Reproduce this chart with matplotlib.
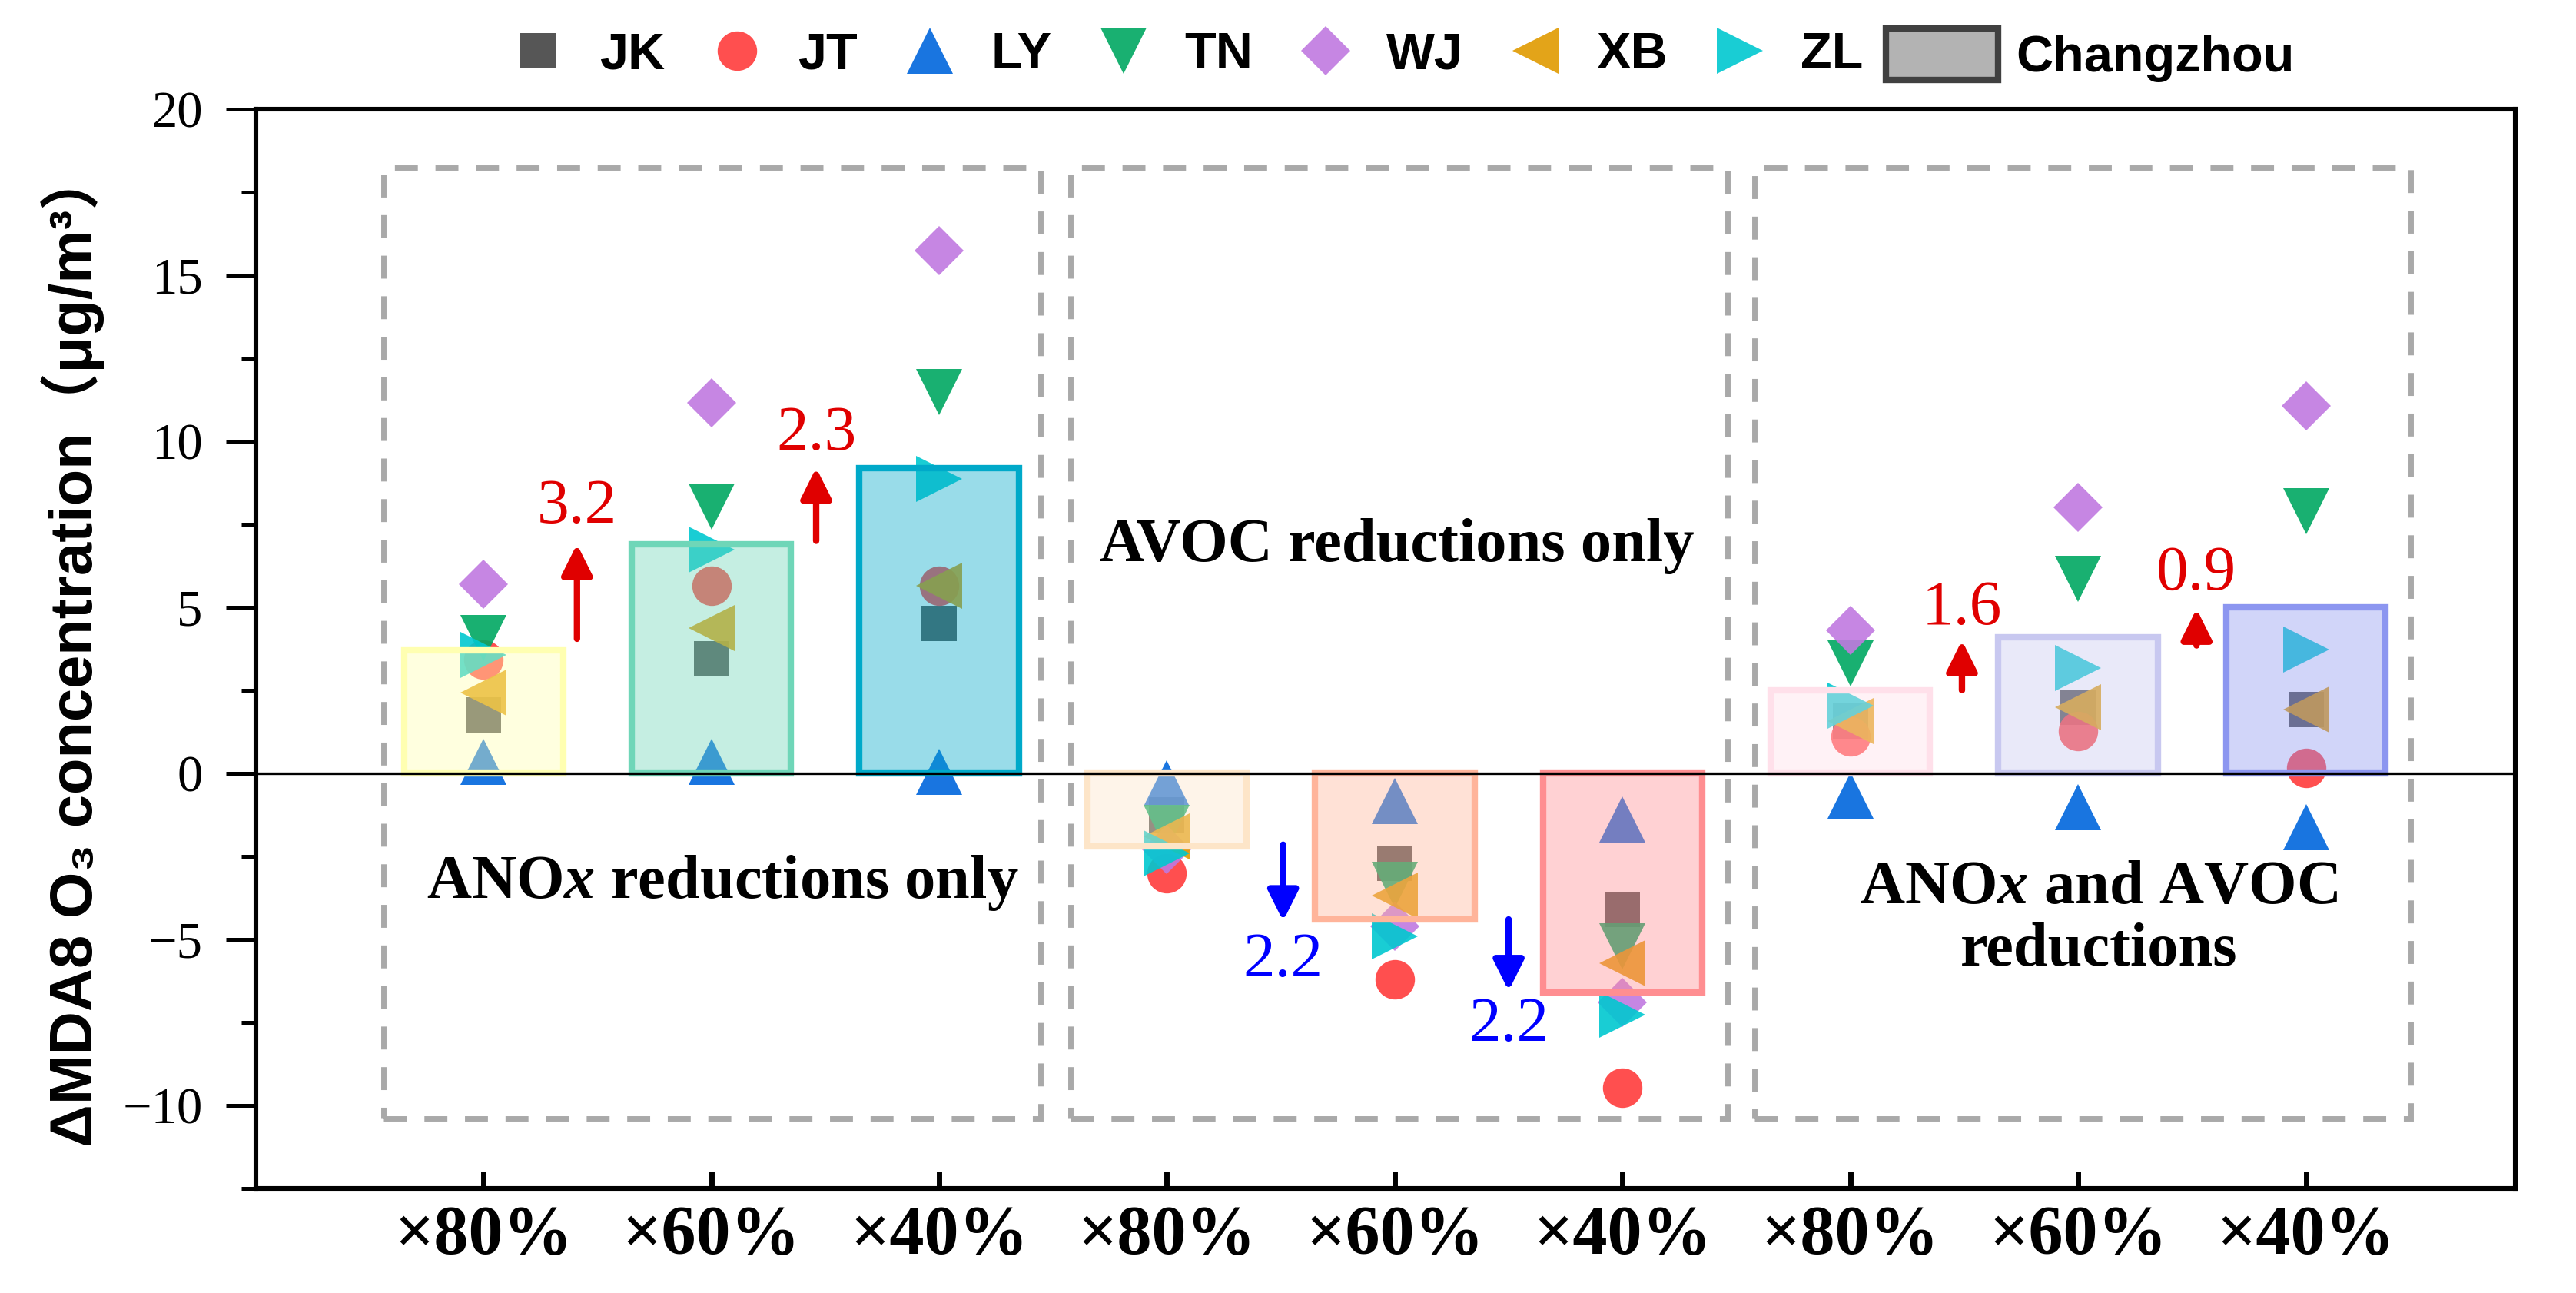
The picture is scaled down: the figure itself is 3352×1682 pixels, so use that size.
import numpy as np
import matplotlib
matplotlib.use("Agg")
import matplotlib.pyplot as plt
from matplotlib.lines import Line2D
from matplotlib.patches import Patch, Rectangle
from matplotlib.ticker import MultipleLocator
from matplotlib.colors import to_rgba

# scenario labels (three groups of three)
scenarios = ["×80%", "×60%", "×40%", "×80%", "×60%", "×40%", "×80%", "×60%", "×40%"]

# ΔMDA8 O3 per district (µg/m3)
sites = ["JK", "JT", "LY", "TN", "WJ", "XB", "ZL"]
jk = [1.76, 3.44, 4.52, -1.26, -2.7, -4.1, 1.57, 1.98, 1.92]
jt = [3.43, 5.64, 5.64, -3.0, -6.2, -9.47, 1.1, 1.28, 0.15]
ly = [0.35, 0.35, 0.05, -0.3, -0.83, -1.38, -0.67, -1.03, -1.62]
tn = [4.07, 8.04, 11.47, -1.65, -3.36, -5.2, 3.3, 5.86, 7.89]
wj = [5.7, 11.16, 15.73, -2.3, -4.6, -6.9, 4.31, 8.0, 11.07]
xb = [2.43, 4.38, 5.64, -1.9, -3.68, -5.73, 1.57, 1.98, 1.92]
zl = [3.57, 6.73, 8.87, -2.42, -4.9, -7.26, 2.04, 3.16, 3.72]
changzhou = [3.7, 6.9, 9.2, -2.2, -4.4, -6.6, 2.5, 4.1, 5.0]

site_values = [jk, jt, ly, tn, wj, xb, zl]
site_markers = ["s", "o", "^", "v", "D", "<", ">"]
site_sizes = [16.5, 18.5, 21.5, 21.5, 16.5, 21.5, 21.5]
site_colors = ["#444444", "#ff3c3c", "#0066dd", "#00a862", "#c079e0", "#e09a00", "#00c8d0"]

bar_colors = ["#ffffb1", "#6fd6b8", "#00a9c9",
              "#fde5c8", "#ffb49a", "#ff8e91",
              "#ffe0ea", "#c8c8f0", "#8c96f0"]

# difference arrows between successive scenarios
arrow_x = [1.41, 2.46, 4.51, 5.50, 7.49, 8.52]
arrow_from = [4.05, 7.0, -2.15, -4.4, 2.5, 3.85]
arrow_to = [6.9, 9.2, -4.45, -6.55, 4.0, 4.95]
arrow_text = ["3.2", "2.3", "2.2", "2.2", "1.6", "0.9"]
arrow_text_y = [8.0, 10.2, -5.65, -7.6, 4.95, 6.0]

# dashed group frames and titles
box_left = [0.56, 3.575, 6.58]
box_right = [3.445, 6.46, 9.46]
box_bottom, box_top = -10.4, 18.25
group_titles = [r"ANO$\mathit{x}$ reductions only", "AVOC reductions only",
                "ANO$\\mathit{x}$ and AVOC\nreductions"]
title_x = [2.05, 5.01, 8.09]
title_y = [-3.3, 6.85, -4.4]

SERIF = "Liberation Serif"
SANS = ["Liberation Sans", "DejaVu Sans", "Noto Sans CJK SC"]

plt.rcParams["mathtext.fontset"] = "custom"
plt.rcParams["mathtext.it"] = "Liberation Serif:italic:bold"
plt.rcParams["mathtext.rm"] = "Liberation Serif:bold"

fig = plt.figure(figsize=(16.76, 8.41), dpi=200)
ax = fig.add_axes([0.0993, 0.0809, 0.8772, 0.8347])

x = np.arange(1, len(scenarios) + 1)

for vals, mk, ms, col in zip(site_values, site_markers, site_sizes, site_colors):
    ax.plot(x, vals, linestyle="none", marker=mk, markersize=ms,
            color=col, markeredgewidth=0, alpha=0.9, zorder=2)

for xi, v, c in zip(x, changzhou, bar_colors):
    ax.bar(xi, v, width=0.7, facecolor=to_rgba(c, 0.4), edgecolor=c,
           linewidth=3, zorder=3)

ax.axhline(0, color="black", linewidth=1.2, zorder=4)

for l, r in zip(box_left, box_right):
    ax.add_patch(Rectangle((l, box_bottom), r - l, box_top - box_bottom,
                           fill=False, edgecolor="#a9a9a9", linewidth=2.5,
                           linestyle=(0, (4.3, 3.3)), zorder=1))

for tx, ty, t in zip(title_x, title_y, group_titles):
    ax.text(tx, ty, t, ha="center", va="center", fontsize=29,
            fontfamily=SERIF, fontweight="bold", linespacing=1.15, zorder=5)

for ax_, y0, y1, t, ty in zip(arrow_x, arrow_from, arrow_to, arrow_text, arrow_text_y):
    col = "#e00000" if y1 > y0 else "#0000ff"
    ax.annotate("", xy=(ax_, y1), xytext=(ax_, y0),
                arrowprops=dict(arrowstyle="-|>,head_length=0.6,head_width=0.3",
                                color=col, lw=3, shrinkA=0, shrinkB=0,
                                mutation_scale=20), zorder=5)
    ax.text(ax_, ty, t, ha="center", va="center", fontsize=30,
            fontfamily=SERIF, color=col, zorder=5)

ax.set_xlim(0, 9.92)
ax.set_ylim(-12.5, 20)
ax.set_xticks(x)
ax.set_xticklabels(scenarios, fontsize=32.5, fontfamily=SERIF, fontweight="bold")
ax.yaxis.set_major_locator(MultipleLocator(5))
ax.yaxis.set_minor_locator(MultipleLocator(2.5))
for lab in ax.get_yticklabels():
    lab.set_fontfamily(SERIF)
    lab.set_fontsize(24)
ax.tick_params(axis="y", which="major", direction="out", length=14, width=1.8, pad=11)
ax.tick_params(axis="y", which="minor", direction="out", length=7, width=1.8)
ax.tick_params(axis="x", direction="in", length=8, width=2.5, pad=8)
for sp in ax.spines.values():
    sp.set_linewidth(2.2)

ax.set_ylabel("ΔMDA8 O₃ concentration（μg/m³）", fontsize=28,
              fontfamily=SANS, fontweight="bold")
ax.yaxis.set_label_coords(-0.067, 0.5)

# legend: districts, then the Changzhou bar entry
handles = []
for s, mk, ms, col in zip(sites, site_markers, site_sizes, site_colors):
    handles.append(Line2D([], [], linestyle="none", marker=mk, markersize=ms,
                          color=col, markeredgewidth=0, alpha=0.9, label=s))
leg_font = dict(family=SANS, weight="bold", size=24)
fig.legend(handles=handles, loc="center left", bbox_to_anchor=(0.195, 0.957),
           ncol=7, frameon=False, handlelength=1.4, handletextpad=0.49,
           columnspacing=0.71, borderpad=0, borderaxespad=0, prop=leg_font)
fig.legend(handles=[Patch(facecolor="#b3b3b3", edgecolor="#404040", linewidth=3,
                          label="Changzhou")],
           loc="center left", bbox_to_anchor=(0.732, 0.957), frameon=False,
           handlelength=2.2, handleheight=1.15, handletextpad=0.35,
           borderpad=0, borderaxespad=0, prop=leg_font)

fig.savefig("out.png", dpi=200)
